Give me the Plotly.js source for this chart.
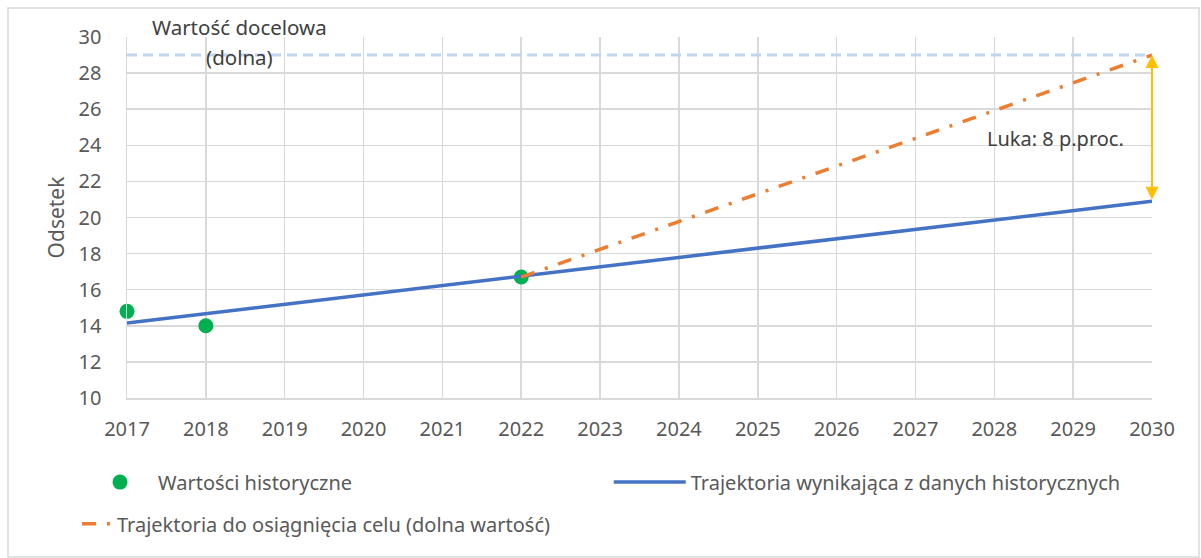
<!DOCTYPE html>
<html>
<head>
<meta charset="utf-8">
<script src="https://cdn.plot.ly/plotly-3.0.1.min.js"></script>
<style>html,body{margin:0;padding:0;background:#fff;}#chart{width:1201px;height:558px;}</style>
</head>
<body>
<div id="chart"></div>
<script>
const histYears = [2017, 2018, 2022];
const histValues = [14.8, 14.0, 16.7];
const trendYears = [2017, 2030];
const trendValues = [14.15, 20.9];
const goalYears = [2022, 2030];
const goalValues = [16.7, 29];
const targetYears = [2017, 2030];
const targetValue = 29;
const gapLabel = 'Luka: 8 p.proc.';
const targetLabelLines = ['Wartość docelowa', '(dolna)'];

const font = {family: 'Noto Sans, Open Sans, sans-serif', size: 18, color: '#595959'};

const traces = [
  {x: targetYears, y: targetYears.map(() => targetValue), mode: 'lines', showlegend: false,
   line: {color: '#BDD7EE', width: 3, dash: '10px,6px'}, hoverinfo: 'skip'},
  {x: histYears, y: histValues, mode: 'markers', name: 'Wartości historyczne', cliponaxis: false,
   marker: {color: '#00B050', size: 15}, legend: 'legend'},
  {x: trendYears, y: trendValues, mode: 'lines', name: 'Trajektoria wynikająca z danych historycznych',
   line: {color: '#4472C4', width: 3.5}, legend: 'legend3'},
  {x: goalYears, y: goalValues, mode: 'lines', name: 'Trajektoria do osiągnięcia celu (dolna wartość)',
   line: {color: '#ED7D31', width: 3.5, dash: '14px,11px,3px,11px'}, legend: 'legend2'}
];

const legendFont = {size: 20, color: '#595959'};

const layout = {
  width: 1201, height: 558,
  margin: {l: 127, r: 49, t: 37, b: 160},
  paper_bgcolor: '#fff', plot_bgcolor: '#fff',
  font: font,
  xaxis: {range: [2017, 2030], dtick: 1, tick0: 2017, showgrid: true, gridcolor: '#D9D9D9', gridwidth: 1.5,
          zeroline: false, showline: true, linecolor: '#D9D9D9', linewidth: 1.5, ticks: '', ticklabelstandoff: 12,
          tickfont: {size: 20, color: '#595959'}, fixedrange: true},
  yaxis: {range: [10, 30], dtick: 2, tick0: 10, showgrid: true, gridcolor: '#D9D9D9', gridwidth: 1.5,
          zeroline: false, showline: true, linecolor: '#D9D9D9', linewidth: 1.5, ticks: '', ticklabelstandoff: 20,
          tickfont: {size: 20, color: '#595959'},
          title: {text: 'Odsetek', font: {size: 21, color: '#595959'}, standoff: 8}},
  showlegend: true,
  legend: {orientation: 'h', x: -0.0439, xanchor: 'left', y: -0.179, yanchor: 'top',
           font: legendFont, itemwidth: 66},
  legend3: {orientation: 'h', x: 0.470, xanchor: 'left', y: -0.179, yanchor: 'top',
           font: legendFont, itemwidth: 72},
  legend2: {orientation: 'h', x: -0.0488, xanchor: 'left', y: -0.2945, yanchor: 'top',
            font: legendFont, itemwidth: 30},
  annotations: [
    {x: 2030, y: targetValue, ax: 2030, ay: trendValues[trendValues.length - 1], xref: 'x', yref: 'y', axref: 'x', ayref: 'y',
     text: '', showarrow: true, arrowside: 'end+start', arrowhead: 2, arrowsize: 1.3, arrowwidth: 2, arrowcolor: '#FFC000'},
    {x: 2028.78, y: 24.4, xref: 'x', yref: 'y', text: gapLabel, showarrow: false, font: {size: 20, color: '#404040'}},
    {x: 2018.43, y: 1 + 10/361, xref: 'x', yref: 'paper', text: targetLabelLines[0], showarrow: false, yanchor: 'middle',
     font: {size: 20.5, color: '#404040'}},
    {x: 2018.43, y: 28.9, xref: 'x', yref: 'y', text: targetLabelLines[1], showarrow: false, yanchor: 'middle',
     font: {size: 20.5, color: '#404040'}}
  ],
  shapes: [
    {type: 'rect', xref: 'paper', yref: 'paper', x0: -119/1025, x1: 1 + 47/1025, y0: -159/361, y1: 1 + 29/361,
     line: {color: '#D9D9D9', width: 1.5}, fillcolor: 'rgba(0,0,0,0)', layer: 'below'}
  ]
};

Plotly.newPlot('chart', traces, layout, {displayModeBar: false, staticPlot: true});
</script>
</body>
</html>
